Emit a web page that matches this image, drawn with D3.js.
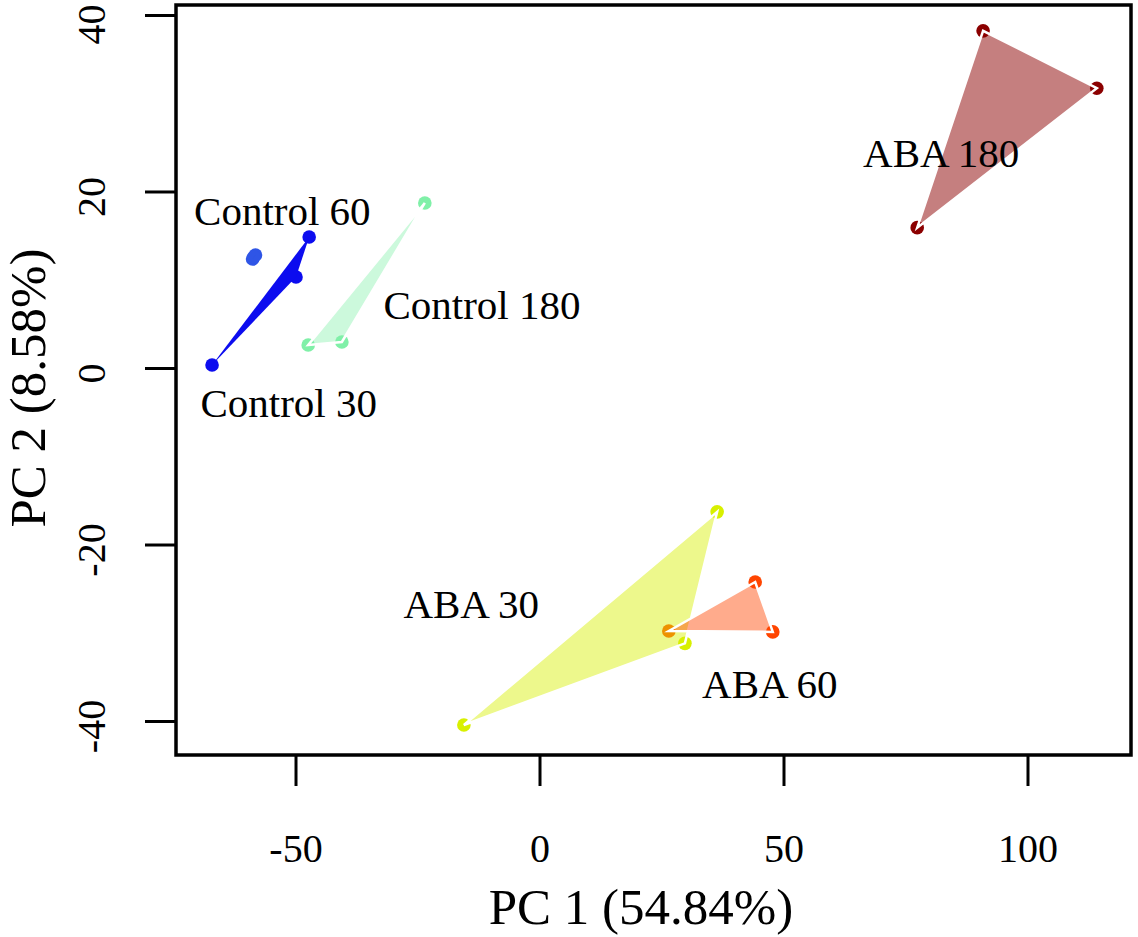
<!DOCTYPE html>
<html>
<head>
<meta charset="utf-8">
<script src="https://cdn.jsdelivr.net/npm/d3@7/dist/d3.min.js"></script>
<style>
  html, body { margin: 0; padding: 0; background: #ffffff; }
  svg { display: block; }
  text { font-family: "Liberation Serif", "Times New Roman", serif; fill: #000; }
</style>
</head>
<body>
<svg id="chart" width="1138" height="937"></svg>
<script>
// ---- Data ----
const groups = ["Control 30", "Control 60", "Control 180", "ABA 30", "ABA 60", "ABA 180"];

const pc1 = [
  [-67.1, -47.2, -49.9],   // Control 30
  [-58.8, -58.2, -58.5],   // Control 60
  [-23.5, -47.4, -40.5],   // Control 180
  [36.4, -15.5, 29.8],     // ABA 30
  [26.5, 44.2, 47.8],      // ABA 60
  [90.9, 114.2, 77.4]      // ABA 180
];
const pc2 = [
  [0.34, 14.84, 10.31],
  [12.35, 12.8, 12.6],
  [18.7, 2.61, 2.95],
  [-16.3, -40.45, -31.2],
  [-29.8, -24.25, -29.9],
  [38.2, 31.7, 15.9]
];

const labelPC1 = [-51.4, -52.7, -11.8, -14.0, 47.2, 82.3];
const labelPC2 = [-5.55, 16.2, 5.55, -28.3, -37.4, 22.8];

const xTicks = [-50, 0, 50, 100];
const yTicks = [-40, -20, 0, 20, 40];
const xTitle = "PC 1 (54.84%)";
const yTitle = "PC 2 (8.58%)";

// ---- Styles ----
const pointColors = ["#0c0cef", "#2f55e6", "#80f0a8", "#d8f000", "#ff4500", "#8b0000"];
const hullOpacity = [1, 0.5, 0.4, 0.45, 0.45, 0.5];
const hullStroke = ["none", "none", "#ffffff", "#ffffff", "#ffffff", "#ffffff"];

// ---- Layout ----
const plot = { left: 176, right: 1131, top: 5, bottom: 755 };
const x = d3.scaleLinear().domain([-74.49, 121.21]).range([plot.left, plot.right]);
const y = d3.scaleLinear().domain([-43.85, 41.13]).range([plot.bottom, plot.top]);
const fmt = d => String(d); // plain hyphen-minus like the reference

const svg = d3.select("#chart");

// points
const gPts = svg.append("g");
groups.forEach((g, i) => {
  gPts.selectAll(null)
    .data(pc1[i].map((v, j) => [v, pc2[i][j]]))
    .join("circle")
    .attr("cx", d => x(d[0]))
    .attr("cy", d => y(d[1]))
    .attr("r", 6.8)
    .attr("fill", pointColors[i]);
});

// hulls
const gHull = svg.append("g");
groups.forEach((g, i) => {
  const pts = pc1[i].map((v, j) => [x(v), y(pc2[i][j])]);
  const hull = d3.polygonHull(pts);
  if (!hull) return;
  gHull.append("path")
    .attr("d", "M" + hull.map(p => p.join(",")).join("L") + "Z")
    .attr("fill", pointColors[i])
    .attr("fill-opacity", hullOpacity[i])
    .attr("stroke", hullStroke[i])
    .attr("stroke-width", 2.5)
    .attr("stroke-linejoin", "miter");
});

// labels
svg.append("g").selectAll("text")
  .data(groups)
  .join("text")
  .attr("x", (d, i) => x(labelPC1[i]))
  .attr("y", (d, i) => y(labelPC2[i]))
  .attr("text-anchor", "middle")
  .attr("font-size", 41)
  .text(d => d);

// box
svg.append("rect")
  .attr("x", plot.left).attr("y", plot.top)
  .attr("width", plot.right - plot.left)
  .attr("height", plot.bottom - plot.top)
  .attr("fill", "none").attr("stroke", "#000").attr("stroke-width", 3.5);

// x axis
const xAxis = svg.append("g")
  .attr("transform", `translate(0,${plot.bottom})`)
  .call(d3.axisBottom(x).tickValues(xTicks).tickSize(31).tickFormat(fmt));
xAxis.select(".domain").remove();
xAxis.selectAll(".tick line").attr("stroke", "#000").attr("stroke-width", 3);
xAxis.selectAll(".tick text")
  .attr("y", 107).attr("dy", null)
  .attr("font-size", 40)
  .attr("font-family", "Liberation Serif, Times New Roman, serif")
  .attr("fill", "#000");

// y axis
const yAxis = svg.append("g")
  .attr("transform", `translate(${plot.left},0)`)
  .call(d3.axisLeft(y).tickValues(yTicks).tickSize(31).tickFormat(fmt));
yAxis.select(".domain").remove();
yAxis.selectAll(".tick line").attr("stroke", "#000").attr("stroke-width", 3);
yAxis.selectAll(".tick text")
  .attr("x", null).attr("dy", null)
  .attr("transform", d => `translate(-71,${d === 40 ? 9 : 5}) rotate(-90)`)
  .attr("text-anchor", "middle")
  .attr("font-size", 40)
  .attr("font-family", "Liberation Serif, Times New Roman, serif")
  .attr("fill", "#000");

// axis titles
svg.append("text")
  .attr("x", 641).attr("y", 924)
  .attr("text-anchor", "middle")
  .attr("font-size", 51)
  .text(xTitle);

svg.append("text")
  .attr("transform", "translate(45,388) rotate(-90)")
  .attr("text-anchor", "middle")
  .attr("font-size", 51)
  .text(yTitle);
</script>
</body>
</html>
